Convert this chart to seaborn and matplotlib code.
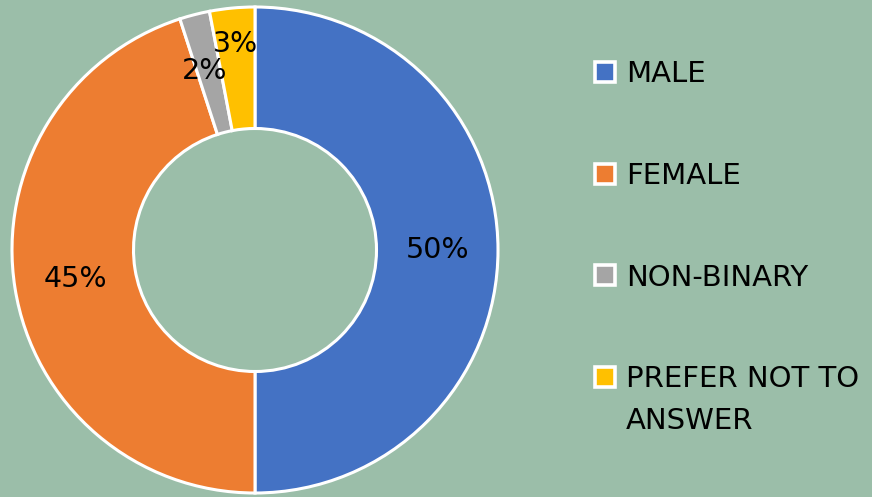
import matplotlib
matplotlib.use("Agg")
import matplotlib.pyplot as plt
from matplotlib.lines import Line2D
import seaborn as sns

categories = ["MALE", "FEMALE", "NON-BINARY", "PREFER NOT TO\nANSWER"]
values = [50, 45, 2, 3]
colors = ["#4472C4", "#ED7D31", "#A5A5A5", "#FFC000"]

BG = "#9bbea9"
sns.set_theme(style="white")
plt.rcParams["font.family"] = ["DejaVu Sans"]

W, H = 872, 497
fig = plt.figure(figsize=(W / 100, H / 100), dpi=100, facecolor=BG)

cx, cy, R = 255, 250, 243
ax = fig.add_axes([(cx - R) / W, (H - cy - R) / H, 2 * R / W, 2 * R / H])
ax.set_facecolor(BG)

wedges, texts, autotexts = ax.pie(
    values,
    colors=colors,
    startangle=90,
    counterclock=False,
    radius=1.0,
    autopct=lambda p: f"{p:.0f}%",
    pctdistance=0.75,
    wedgeprops=dict(width=0.5, edgecolor="white", linewidth=2.2),
    textprops=dict(fontsize=20.5, color="black"),
)
# nudge small-slice labels like the original
x3, y3 = autotexts[3].get_position()
autotexts[3].set_position((x3 - 0.01, y3 + 0.1))
x2, y2 = autotexts[2].get_position()
autotexts[2].set_position((x2 - 0.02, y2 + 0.01))
ax.set_xlim(-1, 1)
ax.set_ylim(-1, 1)
ax.set_aspect("equal")
ax.axis("off")

handles = [
    Line2D([0], [0], marker="s", linestyle="none", markersize=14.5,
           markerfacecolor=c, markeredgecolor="white", markeredgewidth=2.6)
    for c in colors
]
legend_labels = [c.split("\n")[0] for c in categories]
leg = fig.legend(
    handles, legend_labels,
    loc="upper left",
    bbox_to_anchor=(590 / W, 1 - 60 / H),
    frameon=False,
    fontsize=21,
    labelspacing=2.53,
    handlelength=1.0,
    handletextpad=0.24,
    borderaxespad=0,
    borderpad=0,
)
for t in leg.get_texts():
    t.set_color("black")

fig.canvas.draw()
last = leg.get_texts()[-1]
bb = last.get_window_extent()
fig.text(bb.x0 / W, (bb.y0 - 42 + bb.height / 2) / H, categories[-1].split("\n")[1],
         fontsize=21, color="black", ha="left", va="center")

fig.savefig("out.png", dpi=100, facecolor=BG)
